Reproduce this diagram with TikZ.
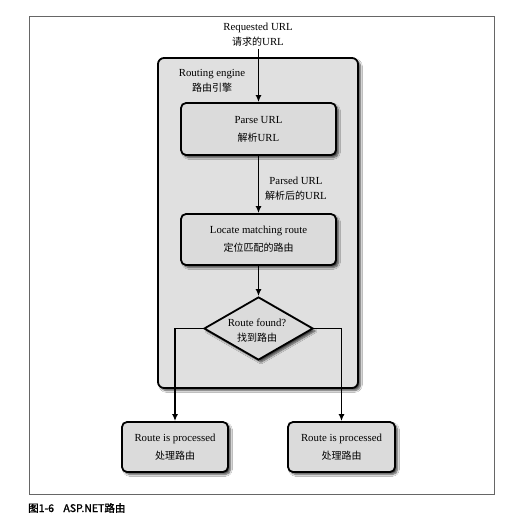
\documentclass[tikz,border=0pt]{standalone}
\usepackage{fontspec}
\setmainfont{Liberation Serif}
\newfontfamily\cjk{Noto Sans CJK SC}
\newfontfamily\cjkcap[AutoFakeBold=1.6]{Noto Sans CJK SC}
\usetikzlibrary{arrows.meta,shapes.geometric,shadows.blur,positioning}
\definecolor{boxgray}{gray}{0.86}
\definecolor{enggray}{gray}{0.88}
\newcommand{\zh}[1]{{\cjk\fontsize{10}{17}\selectfont #1}}
\tikzset{
  x=1pt, y=-1pt,
  lbl/.style={font=\fontsize{10.8}{15}\selectfont, align=center, inner sep=0pt},
  shad/.style={blur shadow={shadow xshift=2.5pt, shadow yshift=-2.5pt, shadow blur steps=6, shadow opacity=70}},
  procbox/.style={draw=black, line width=1.8pt, fill=boxgray, rounded corners=5pt, shad,
    align=center, inner sep=0pt, font=\fontsize{10.8}{18}\selectfont},
  flow/.style={line width=1.7pt, -{Latex[length=7pt,width=6pt]}},
}
\begin{document}
\begin{tikzpicture}
\useasboundingbox (0,0) rectangle (508,525);
\fill[white] (0,0) rectangle (508,525);
% outer frame
\draw[gray!80!black, line width=0.9pt] (29,16) rectangle (494,494);
% caption
\node[anchor=west, inner sep=0pt, font=\cjkcap\bfseries\fontsize{10.5}{12}\selectfont] (cap) at (28,508) {图1-6\hspace{0.9em}ASP.NET路由};

% routing engine container
\node[draw=black, line width=1.8pt, fill=enggray, rounded corners=6pt,
  minimum width=200pt, minimum height=330pt, inner sep=0pt, shad]
  (engine) at (258,223) {};
\node[lbl] (englbl) at (212,81) {Routing engine\\\zh{路由引擎}};

% request label
\node[lbl] (req) at (258,35) {Requested URL\\\zh{请求的}URL};

% process boxes
\node[procbox, minimum width=155pt, minimum height=52pt] (parse) at (258.5,129)
  {Parse URL\\\zh{解析}URL};
\node[procbox, minimum width=155pt, minimum height=51pt] (locate) at (258.5,239.5)
  {Locate matching route\\\zh{定位匹配的路由}};

% diamond
\node[diamond, draw=black, line width=1.8pt, fill=boxgray, minimum width=109pt, minimum height=63pt,
  inner sep=0pt, shad] (dia) at (258.5,328.5) {};
\node[lbl] (dialbl) at (257,331) {Route found?\\\zh{找到路由}};

% result boxes
\node[procbox, minimum width=106pt, minimum height=50pt] (left) at (175,447)
  {Route is processed\\\zh{处理路由}};
\node[procbox, minimum width=107pt, minimum height=50pt] (right) at (341.5,447)
  {Route is processed\\\zh{处理路由}};

% parsed URL label
\node[lbl, anchor=west] (parsedlbl) at (265,189) {Parsed URL\\\zh{解析后的}URL};

% connectors
\draw[flow] (req.south -| parse.north) ++(0,2) -- (parse.north);
\draw[flow] (parse.south) -- (locate.north);
\draw[flow] (locate.south) -- (dia.north);
\draw[flow] (dia.west) -| (left.north);
\draw[flow] (dia.east) -| (right.north);
\end{tikzpicture}
\end{document}
